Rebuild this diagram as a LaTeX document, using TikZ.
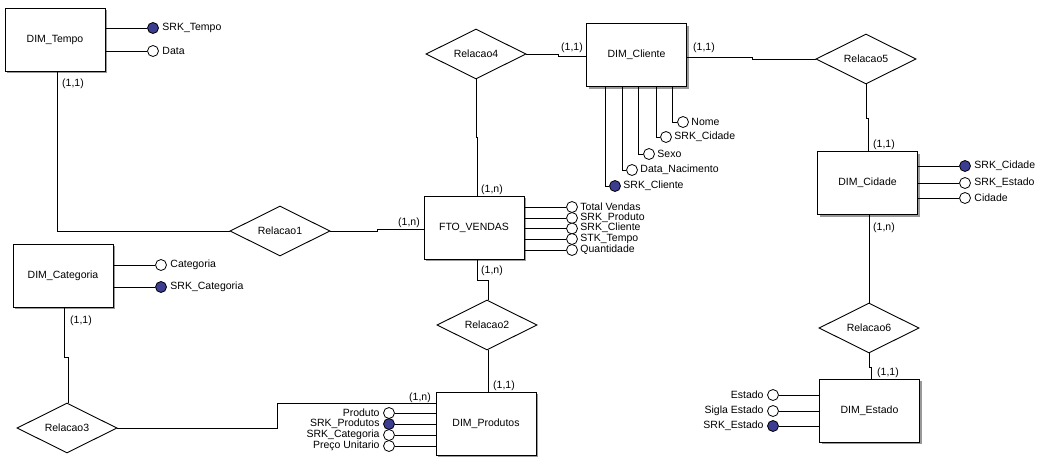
\documentclass[tikz,border=0pt]{standalone}
\usepackage{fontspec}
\setmainfont{Liberation Sans}
\usetikzlibrary{shapes.geometric,shadows}
\definecolor{keyblue}{RGB}{60,60,145}
\begin{document}
\begin{tikzpicture}[x=1pt,y=-1pt, font=\fontsize{10.5}{12}\selectfont, line width=0.9pt,
 entity/.style={draw, fill=white, minimum width=100pt, minimum height=63pt, inner sep=0,
   drop shadow={shadow xshift=2pt,shadow yshift=-2pt,fill=black!40,opacity=1}},
 rel/.style={draw, diamond, aspect=2, minimum width=100pt, minimum height=50pt, inner sep=0, fill=white},
 attr/.style={draw, circle, minimum size=11pt, inner sep=0, fill=white, line width=0.8pt},
 keyattr/.style={attr, fill=keyblue},
 card/.style={inner sep=0},
 lbl/.style={inner sep=0, anchor=west},
 lbr/.style={inner sep=0, anchor=east}]
\fill[white] (0,0) rectangle (1046,458);
\useasboundingbox (0,0) rectangle (1046,458);

% entities
\node[entity] (tempo) at (55,39.5) {DIM\_Tempo};
\node[entity] (cliente) at (636.5,55) {DIM\_Cliente};
\node[entity] (fto) at (474,227.5) {FTO\_VENDAS};
\node[entity] (cidade) at (867.5,183) {DIM\_Cidade};
\node[entity] (categoria) at (63,275.5) {DIM\_Categoria};
\node[entity] (produtos) at (486,423.5) {DIM\_Produtos};
\node[entity] (estado) at (869.5,410.5) {DIM\_Estado};

% relationships
\node[rel] (r1) at (280,231) {Relacao1};
\node[rel] (r2) at (487,325) {Relacao2};
\node[rel] (r3) at (67,428) {Relacao3};
\node[rel] (r4) at (476,54) {Relacao4};
\node[rel] (r5) at (866,59) {Relacao5};
\node[rel] (r6) at (869,328) {Relacao6};

% connectors
\draw (57,0 |- tempo.south) |- (r1.west);
\node[card] at (73,84) {(1,1)};
\draw (r1.east) -- (377,231) -- (377,229) -- (fto.west |- 0,229);
\node[card] at (409,223) {(1,n)};
\draw (477,0 |- fto.north) -- (477,137) -- (476,137) -- (r4.south);
\node[card] at (492,190) {(1,n)};
\draw (r4.east) -- (558,54) -- (558,56) -- (cliente.west |- 0,56);
\node[card] at (572,48) {(1,1)};
\draw (cliente.east |- 0,57) -- (752,57) -- (752,59) -- (r5.west);
\node[card] at (704,48) {(1,1)};
\draw (r5.south) -- (866,118) -- (868,118) -- (868,0 |- cidade.north);
\node[card] at (884,145) {(1,1)};
\draw (cidade.south -| r6.north) -- (r6.north);
\node[card] at (884,228) {(1,n)};
\draw (r6.south) -- (869,367) -- (871,367) -- (871,0 |- estado.north);
\node[card] at (888,373) {(1,1)};
\draw (477,0 |- fto.south) -- (477,280) -- (488,280) -- (488,0 |- r2.north);
\node[card] at (492,271) {(1,n)};
\draw (488,0 |- r2.south) -- (488,0 |- produtos.north);
\node[card] at (504,386) {(1,1)};
\draw (64,0 |- categoria.south) -- (64,357) -- (68,357) -- (68,0 |- r3.north);
\node[card] at (81,321) {(1,1)};
\draw (r3.east) -- (277,428) -- (277,403) -- (produtos.west |- 0,403);
\node[card] at (420,398) {(1,n)};

% DIM_Tempo attributes
\node[keyattr] (ta) at (153,28) {};
\node[attr] (tb) at (153,51) {};
\draw (tempo.east |- ta) -- (ta); \node[lbl] at (162,28) {SRK\_Tempo};
\draw (tempo.east |- tb) -- (tb); \node[lbl] at (162,51) {Data};

% DIM_Cliente attributes
\node[keyattr] (ca) at (615,186) {};
\node[attr] (cb) at (632,170) {};
\node[attr] (cc) at (649,154) {};
\node[attr] (cd) at (666,137) {};
\node[attr] (ce) at (683,122) {};
\draw (605,0 |- cliente.south) |- (ca); \node[lbl] at (623,186) {SRK\_Cliente};
\draw (622,0 |- cliente.south) |- (cb); \node[lbl] at (640,170) {Data\_Nacimento};
\draw (638,0 |- cliente.south) |- (cc); \node[lbl] at (657,154) {Sexo};
\draw (656,0 |- cliente.south) |- (cd); \node[lbl] at (674,137) {SRK\_Cidade};
\draw (672,0 |- cliente.south) |- (ce); \node[lbl] at (691,122) {Nome};

% FTO_VENDAS attributes
\node[attr] (fa) at (572,207) {};
\node[attr] (fb) at (572,218) {};
\node[attr] (fc) at (572,228.5) {};
\node[attr] (fd) at (572,239) {};
\node[attr] (fe) at (572,250) {};
\foreach \n in {fa,fb,fc,fd,fe}{ \draw (fto.east |- \n) -- (\n); }
\node[lbl] at (580,206.5) {Total Vendas};
\node[lbl] at (580,217.5) {SRK\_Produto};
\node[lbl] at (580,228) {SRK\_Cliente};
\node[lbl] at (580,238.5) {STK\_Tempo};
\node[lbl] at (580,249.5) {Quantidade};

% DIM_Cidade attributes
\node[keyattr] (da) at (965,166) {};
\node[attr] (db) at (965,183) {};
\node[attr] (dc) at (965,198) {};
\draw (cidade.east |- da) -- (da); \node[lbl] at (974,166) {SRK\_Cidade};
\draw (cidade.east |- db) -- (db); \node[lbl] at (974,183) {SRK\_Estado};
\draw (cidade.east |- dc) -- (dc); \node[lbl] at (974,198) {Cidade};

% DIM_Categoria attributes
\node[attr] (ga) at (161,265) {};
\node[keyattr] (gb) at (161,287) {};
\draw (categoria.east |- ga) -- (ga); \node[lbl] at (170,265) {Categoria};
\draw (categoria.east |- gb) -- (gb); \node[lbl] at (170,287) {SRK\_Categoria};

% DIM_Produtos attributes
\node[attr] (pa) at (389,413) {};
\node[keyattr] (pb) at (389,424) {};
\node[attr] (pc) at (389,435) {};
\node[attr] (pd) at (389,446) {};
\draw (pa) -- (produtos.west |- pa); \node[lbr] at (380,412.5) {Produto};
\draw (pb) -- (produtos.west |- pb); \node[lbr] at (380,423.5) {SRK\_Produtos};
\draw (pc) -- (produtos.west |- pc); \node[lbr] at (380,434.5) {SRK\_Categoria};
\draw (pd) -- (produtos.west |- pd); \node[lbr] at (380,445.5) {Preço Unitario};

% DIM_Estado attributes
\node[attr] (ea) at (773,395) {};
\node[attr] (eb) at (773,411) {};
\node[keyattr] (ec) at (773,426) {};
\draw (ea) -- (estado.west |- ea); \node[lbr] at (764,395) {Estado};
\draw (eb) -- (estado.west |- eb); \node[lbr] at (764,411) {Sigla Estado};
\draw (ec) -- (estado.west |- ec); \node[lbr] at (764,426) {SRK\_Estado};
\end{tikzpicture}
\end{document}
